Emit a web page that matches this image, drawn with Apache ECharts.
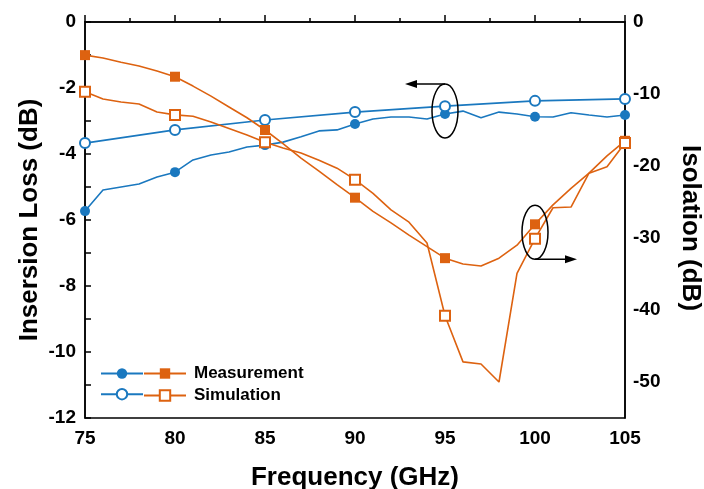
<!DOCTYPE html>
<html>
<head>
<meta charset="utf-8">
<script src="https://cdn.jsdelivr.net/npm/echarts@6/dist/echarts.min.js"></script>
<style>
  html, body { margin: 0; padding: 0; background: #fff; }
  #main { width: 704px; height: 489px; }
</style>
</head>
<body>
<div id="main"></div>
<script>
// frequency points (GHz)
const freq = [75, 76, 77, 78, 79, 80, 81, 82, 83, 84, 85, 86, 87, 88, 89, 90,
              91, 92, 93, 94, 95, 96, 97, 98, 99, 100, 101, 102, 103, 104, 105];
const simFreq = [75, 80, 85, 90, 95, 100, 105];

// insertion loss (dB), left axis
const ilMeas = [-5.73, -5.09, -5.0, -4.91, -4.7, -4.55, -4.18, -4.03, -3.94, -3.79, -3.73,
                -3.64, -3.48, -3.3, -3.27, -3.09, -2.94, -2.88, -2.88, -2.94, -2.79,
                -2.70, -2.9, -2.73, -2.79, -2.87, -2.88, -2.75, -2.82, -2.88, -2.82];
const ilSim = [-3.67, -3.27, -2.97, -2.73, -2.55, -2.39, -2.33];

// isolation (dB), right axis
const isoMeas = [-4.6, -5.0, -5.6, -6.1, -6.8, -7.6, -8.9, -10.3, -11.8, -13.3, -15.0,
                 -16.9, -18.9, -20.7, -22.6, -24.4, -26.3, -27.9, -29.6, -31.2, -32.8,
                 -33.6, -33.9, -32.8, -31.0, -28.1, -25.4, -23.1, -21.0, -18.6, -16.5];
const isoSim = [-9.7, -10.7, -11.1, -11.4, -12.5, -12.9, -13.1, -13.9, -14.8, -15.7, -16.7,
                -17.5, -18.2, -19.2, -20.3, -21.9, -23.8, -26.1, -27.8, -30.7, -40.8,
                -47.2, -47.5, -50.0, -34.9, -30.1, -25.8, -25.7, -21.0, -20.1, -16.8];

const blue = '#1a78bf';
const orange = '#dd6210';
const font = '"Liberation Sans", Arial, sans-serif';

// markers only every 5 GHz
function withMarks(xs, ys) {
    return xs.map(function (x, i) {
        const item = { value: [x, ys[i]] };
        if (x % 5 !== 0) item.symbol = 'none';
        return item;
    });
}

const chart = echarts.init(document.getElementById('main'));

const lineBase = { type: 'line', symbolSize: 10, lineStyle: { width: 1.6 }, z: 3 };
const tickLabel = { fontFamily: font, fontWeight: 'bold', fontSize: 19, color: '#000' };
const title = { fontFamily: font, fontWeight: 'bold', fontSize: 26, color: '#000' };

chart.setOption({
    animation: false,
    backgroundColor: '#fff',
    grid: { left: 85, right: 79, top: 22, bottom: 71, show: true, outerBoundsMode: 'none',
            borderColor: '#000', borderWidth: 1.5, backgroundColor: 'transparent' },
    legend: [
        {
            left: 100, top: 367, padding: 0, orient: 'vertical', itemWidth: 42, itemHeight: 13, itemGap: 9,
            data: ['IL Measurement', 'IL Simulation'],
            formatter: function () { return ''; },
            selectedMode: false
        },
        {
            left: 143, top: 365, padding: 0, orient: 'vertical', itemWidth: 42, itemHeight: 13, itemGap: 5,
            data: ['Measurement', 'Simulation'],
            selectedMode: false,
            textStyle: { fontFamily: font, fontWeight: 'bold', fontSize: 17, lineHeight: 13, color: '#000', padding: [0, 0, 0, 3] }
        }
    ],
    xAxis: {
        type: 'value', min: 75, max: 105, interval: 5,
        name: 'Frequency (GHz)', nameLocation: 'middle', nameGap: 47, nameMoveOverlap: false,
        nameTextStyle: title,
        axisLine: { lineStyle: { color: '#000', width: 1.5 } },
        axisTick: { inside: true, length: 7, lineStyle: { color: '#000', width: 1.5 } },
        minorTick: { show: true, splitNumber: 2, length: 4, lineStyle: { color: '#000', width: 1.5 } },
        axisLabel: Object.assign({ margin: 11 }, tickLabel),
        splitLine: { show: false }
    },
    yAxis: [
        {
            type: 'value', min: -12, max: 0, interval: 1,
            name: 'Insersion Loss (dB)', nameLocation: 'middle', nameGap: 42, nameMoveOverlap: false,
            nameTextStyle: title,
            axisLine: { show: true, lineStyle: { color: '#000', width: 1.5 } },
            axisTick: { inside: true, length: 6, lineStyle: { color: '#000', width: 1.5 } },
            axisLabel: Object.assign({ margin: 9,
                         formatter: function (v) { return v % 2 === 0 ? String(v) : ''; } }, tickLabel),
            splitLine: { show: false }
        },
        {
            type: 'value', min: -55, max: 0, interval: 5, position: 'right',
            name: 'Isolation (dB)', nameLocation: 'middle', nameGap: 52, nameRotate: -90, nameMoveOverlap: false,
            nameTextStyle: Object.assign({ padding: [0, 0, 0, 16] }, title),
            axisLine: { show: true, lineStyle: { color: '#000', width: 1.5 } },
            axisTick: { show: false },
            axisLabel: Object.assign({ margin: 8,
                         formatter: function (v) { return v % 10 === 0 ? String(v) : ''; } }, tickLabel),
            splitLine: { show: false }
        }
    ],
    series: [
        Object.assign({}, lineBase, {
            name: 'IL Measurement', yAxisIndex: 0, symbol: 'circle',
            color: blue, data: withMarks(freq, ilMeas)
        }),
        Object.assign({}, lineBase, {
            name: 'IL Simulation', yAxisIndex: 0, symbol: 'emptyCircle',
            itemStyle: { color: blue, borderWidth: 2 }, color: blue,
            data: simFreq.map(function (x, i) { return [x, ilSim[i]]; })
        }),
        Object.assign({}, lineBase, {
            name: 'Measurement', yAxisIndex: 1, symbol: 'rect',
            color: orange, data: withMarks(freq, isoMeas)
        }),
        Object.assign({}, lineBase, {
            name: 'Simulation', yAxisIndex: 1, symbol: 'emptyRect',
            itemStyle: { color: orange, borderWidth: 2 }, color: orange,
            data: withMarks(freq, isoSim)
        })
    ]
});

// ellipse + arrow annotations placed from data coordinates
const c1 = chart.convertToPixel({ xAxisIndex: 0, yAxisIndex: 0 }, [95, -2.7]);
const c2 = chart.convertToPixel({ xAxisIndex: 0, yAxisIndex: 1 }, [100, -29.2]);
const rx = 13, ry = 27;
const stroke = { stroke: '#000', lineWidth: 1.5, fill: null };

function arrowHead(x, y, dir) {
    return {
        type: 'polygon', z: 10,
        shape: { points: [[x, y], [x - dir * 12, y - 4], [x - dir * 12, y + 4]] },
        style: { fill: '#000' }
    };
}

chart.setOption({
    graphic: [
        { type: 'ellipse', z: 10, shape: { cx: c1[0], cy: c1[1], rx: rx, ry: ry }, style: stroke },
        { type: 'line', z: 10, shape: { x1: c1[0], y1: c1[1] - ry, x2: c1[0] - 36, y2: c1[1] - ry }, style: stroke },
        arrowHead(c1[0] - 40, c1[1] - ry, -1),
        { type: 'ellipse', z: 10, shape: { cx: c2[0], cy: c2[1], rx: rx, ry: ry }, style: stroke },
        { type: 'line', z: 10, shape: { x1: c2[0], y1: c2[1] + ry, x2: c2[0] + 38, y2: c2[1] + ry }, style: stroke },
        arrowHead(c2[0] + 42, c2[1] + ry, 1)
    ]
});
</script>
</body>
</html>
